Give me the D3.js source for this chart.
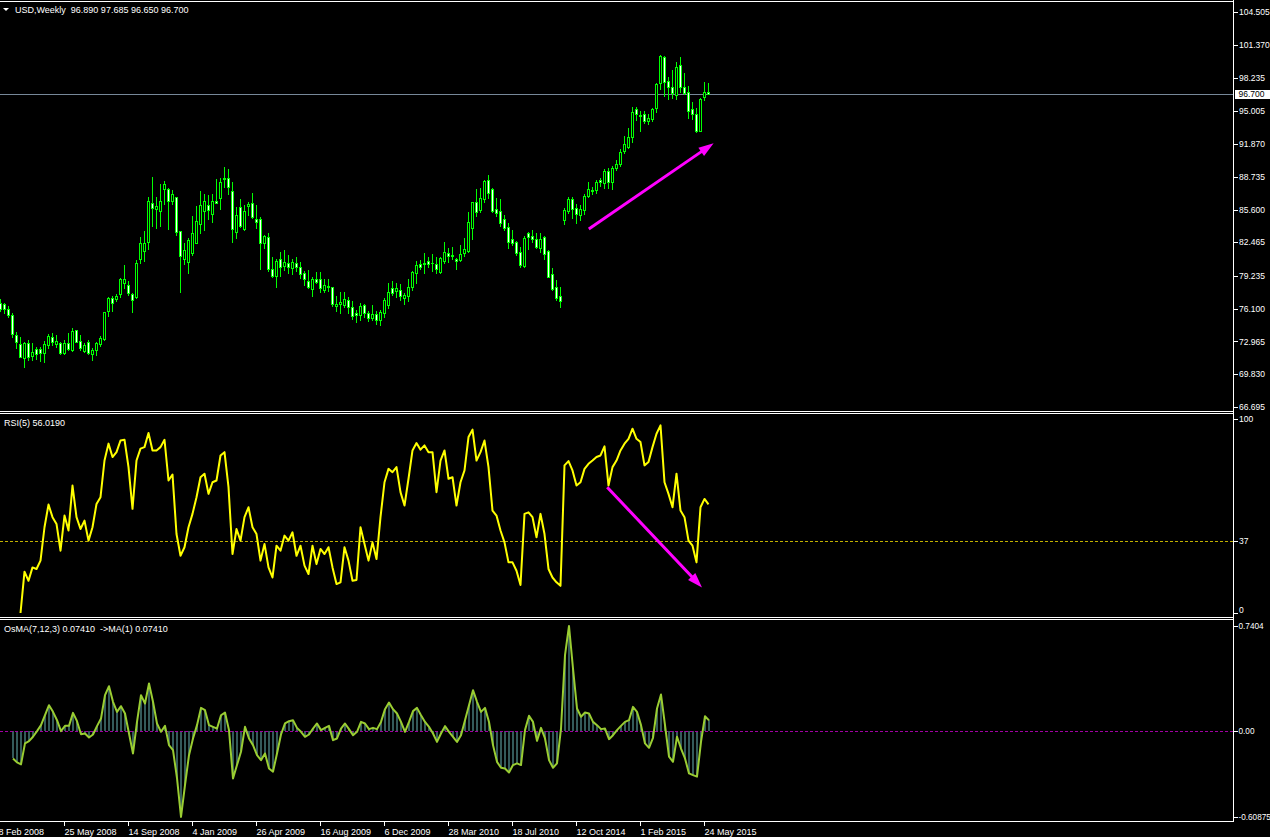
<!DOCTYPE html>
<html><head><meta charset="utf-8">
<script src="https://cdnjs.cloudflare.com/ajax/libs/d3/7.8.5/d3.min.js"></script>
<style>
body{margin:0;background:#000;overflow:hidden}
svg{display:block}
text{font-family:"Liberation Sans",Arial,sans-serif;font-size:9px;fill:#fff;white-space:pre}
</style></head>
<body><svg id="c" width="1270" height="837"></svg>
<script>
// ---------------- data ----------------
const opens=[76.65,76.56,76.05,75.53,73.58,72.72,71.36,72.79,71.58,72.25,72.25,71.86,72.60,73.37,72.75,72.79,71.89,72.79,72.15,74.04,73.01,72.08,72.95,71.77,72.15,72.75,73.17,75.91,77.10,77.00,77.48,78.60,78.37,77.51,77.20,80.89,81.60,82.46,86.25,85.65,85.46,87.56,87.56,86.41,86.77,83.54,80.86,80.55,81.46,82.42,84.18,85.49,86.03,85.14,86.41,86.73,88.52,88.59,87.40,83.42,85.87,83.73,85.96,86.25,84.69,84.66,82.36,83.00,79.87,79.26,80.83,80.19,80.51,80.03,80.51,80.07,79.49,78.76,77.99,78.95,78.95,77.89,78.18,78.15,76.40,76.56,76.49,76.91,76.27,75.72,75.50,76.43,75.72,75.19,75.57,75.02,75.66,76.46,78.06,77.83,77.89,77.10,77.35,78.15,79.49,80.35,80.35,80.67,80.51,80.35,79.65,80.70,81.41,81.25,80.86,80.77,81.46,81.63,83.80,86.35,85.55,86.58,88.42,87.53,85.62,85.49,84.66,83.95,82.78,82.46,81.56,80.22,83.32,83.09,82.75,81.89,83.00,81.63,79.40,78.15,77.35,84.60,85.46,86.58,85.72,85.07,85.55,86.92,87.37,87.47,88.42,88.17,89.32,88.20,89.54,89.93,91.23,91.61,92.57,95.19,94.65,94.71,94.10,94.24,95.29,97.68,100.17,97.93,97.30,96.56,99.43,97.30,96.88,95.19,94.71,93.14,96.40,96.89];
const highs=[77.03,76.68,76.37,75.72,73.90,73.37,72.95,73.11,72.79,72.47,72.47,73.01,73.65,73.75,73.58,72.95,73.11,73.75,74.23,74.07,73.58,72.82,73.11,72.31,72.95,73.49,75.82,77.20,77.32,77.48,79.01,80.29,78.78,77.63,80.77,82.94,83.58,86.83,88.71,86.77,88.04,88.33,87.69,87.47,86.83,83.57,82.42,82.84,84.98,85.94,87.37,87.05,86.99,87.08,88.52,88.59,89.64,89.48,88.20,85.87,86.58,86.05,86.35,87.15,86.05,84.91,83.15,83.32,81.03,80.86,81.50,81.72,81.25,80.86,81.08,80.60,79.71,79.81,79.17,79.59,79.59,78.95,78.95,78.21,77.32,77.70,77.73,77.20,76.85,75.98,76.68,76.56,75.91,76.46,75.88,75.98,77.10,78.54,78.76,78.54,78.44,77.58,78.92,79.71,80.70,80.77,81.41,81.08,81.34,81.08,81.08,82.52,81.89,82.04,80.93,82.20,82.84,85.39,86.35,87.53,87.69,88.42,88.90,87.69,86.67,86.60,85.07,84.28,83.64,82.59,82.04,83.09,83.47,83.64,83.32,83.32,83.06,81.72,79.97,78.85,78.15,85.71,86.83,86.77,86.10,86.03,87.08,88.20,87.78,88.42,88.59,89.45,89.54,89.79,90.34,91.36,92.64,93.37,95.44,95.44,95.03,95.03,94.71,95.29,97.74,100.39,100.29,98.31,98.95,99.75,100.23,98.64,97.42,95.86,95.29,96.24,97.78,97.685];
const lows=[75.88,75.72,75.28,73.42,72.37,71.45,70.55,71.20,71.20,71.29,71.10,71.00,72.37,72.63,72.47,71.77,71.77,72.15,72.06,72.92,72.15,71.99,71.77,71.20,71.67,72.54,73.13,75.44,75.91,76.84,77.20,78.12,77.39,75.82,77.17,80.51,80.67,81.82,84.02,83.83,84.01,86.13,83.77,86.16,83.15,77.73,80.38,79.49,81.27,82.36,83.38,83.64,84.69,84.37,86.20,85.65,87.72,87.05,82.52,82.84,83.96,83.64,85.07,84.76,83.80,79.90,81.89,79.71,79.17,78.21,79.26,79.81,79.49,79.42,79.74,79.01,78.37,78.12,77.35,78.54,77.73,77.73,77.83,76.37,75.91,75.69,76.30,75.66,75.12,74.86,75.02,75.34,74.93,75.02,74.64,74.54,75.34,76.14,77.42,77.25,76.94,76.53,76.87,77.89,78.60,79.90,79.55,80.07,79.71,79.55,79.49,80.45,80.55,80.83,79.90,80.67,81.18,81.56,82.78,85.01,85.39,86.35,86.67,85.39,85.01,84.05,83.64,81.94,82.20,81.25,80.07,80.12,81.82,82.52,81.89,81.56,80.83,79.11,77.89,76.94,76.24,84.21,85.24,84.81,84.34,84.60,85.14,86.83,87.08,87.15,87.85,87.69,87.69,87.53,89.38,89.76,91.04,91.46,92.09,94.17,93.14,93.85,93.76,94.07,94.90,97.10,96.49,96.15,96.30,96.18,96.82,96.63,94.33,94.23,93.04,93.11,96.08,96.65];
const closes=[76.08,76.05,75.47,73.65,72.95,71.51,72.79,71.51,71.99,71.77,71.89,72.70,73.49,72.92,73.01,71.89,72.85,72.28,73.97,72.95,72.31,72.63,71.83,72.15,72.79,73.33,75.76,77.10,76.68,77.32,78.95,78.92,77.58,76.94,80.44,82.36,82.36,86.44,85.72,85.91,86.41,88.01,86.38,87.08,83.47,81.18,81.72,82.68,83.38,84.50,86.03,86.41,85.55,86.41,86.25,88.20,88.64,87.72,83.70,85.07,84.05,85.49,86.10,84.85,84.43,82.36,83.06,79.90,79.26,80.67,80.07,80.60,80.12,80.60,80.12,79.40,78.92,78.21,78.92,78.69,78.06,78.37,78.27,76.56,76.56,76.75,77.00,76.27,75.36,75.47,76.37,75.66,75.19,75.57,75.02,75.76,76.94,77.67,77.58,78.06,77.32,77.41,78.21,79.59,80.29,80.12,80.51,80.35,80.45,79.90,80.93,81.56,81.15,81.19,80.70,81.34,81.79,84.43,86.29,85.39,86.67,88.33,87.21,85.46,85.24,84.34,83.86,82.52,82.42,81.41,80.29,82.84,83.00,82.78,81.98,82.75,81.31,79.17,77.99,77.10,76.87,85.55,86.58,85.65,85.14,85.62,86.92,87.53,87.47,88.20,88.20,89.29,88.20,89.54,89.93,91.08,91.84,92.57,94.90,94.71,94.58,94.10,94.33,95.19,97.61,100.29,97.83,97.30,96.72,99.27,97.30,96.78,95.06,94.71,93.11,96.15,96.82,96.70];

const rsiFirstBar=5;
const rsiValues=[0,21.3,16.6,23.5,22.7,27.0,44.2,55.9,49.4,45.9,32.1,50.2,42.5,65.7,49.4,43.3,47.6,37.3,44.2,56.2,59.7,78.6,87.3,80.4,82.9,88.9,89.3,75.2,53.7,78.6,84.7,85.5,92.8,83.8,83.8,85.5,89.3,68.3,71.4,40.7,29.5,33.9,44.2,51.1,59.7,70.0,71.8,61.4,67.4,68.3,81.2,82.9,64.9,30.4,43.3,37.3,49.4,54.5,44.2,40.7,27.0,35.6,23.5,18.3,34.7,32.1,39.9,37.3,41.6,29.5,34.7,24.4,20.1,34.7,25.2,33.0,30.4,33.9,23.5,14.9,15.8,33.9,27.0,16.6,17.0,44.2,35.6,27.0,36.4,27.8,49.4,67.4,74.3,72.6,75.2,62.3,55.4,69.2,83.8,87.6,84.2,86.4,82.9,82.9,62.3,78.6,83.8,69.2,70.0,55.4,67.4,73.5,90.7,94.5,78.6,82.9,88.9,75.2,52.8,50.2,42.5,36.4,26.1,26.1,21.8,14.4,51.1,51.9,49.4,39.0,51.1,40.7,22.7,18.3,15.8,14.0,76.1,78.3,73.5,65.7,67.4,74.3,76.9,78.6,80.4,81.2,85.9,65.7,75.2,78.6,83.8,87.3,89.8,95.0,89.8,88.1,76.1,77.8,85.5,92.4,96.7,67.4,61.4,54.5,71.8,52.8,49.4,37.3,34.7,26.1,54.5,58.8,56.019];
const rsiLevel=37;

const osmaFirstBar=3;
const osmaValues=[-0.195,-0.223,-0.237,-0.089,-0.073,-0.042,-0.002,0.040,0.110,0.181,0.134,0.075,-0.002,0.035,0.035,0.127,0.068,-0.024,-0.019,-0.047,-0.026,0.033,0.087,0.252,0.315,0.205,0.134,0.174,0.122,-0.019,-0.160,0.063,0.252,0.193,0.334,0.205,0.052,-0.007,0.035,-0.101,-0.136,-0.334,-0.60875,-0.383,-0.172,-0.054,0.040,0.162,0.146,0.040,0.028,0.016,0.110,0.129,0.005,-0.336,-0.242,-0.148,0.028,-0.054,-0.101,-0.172,-0.207,-0.160,-0.266,-0.289,-0.160,-0.026,0.052,0.068,0.075,0.021,-0.007,-0.042,-0.026,0.016,0.052,0.005,0.021,0.035,-0.066,-0.054,0.016,0.052,0.012,-0.031,-0.007,0.063,0.052,0.012,0.021,0.012,0.063,0.153,0.200,0.153,0.122,0.063,-0.007,0.063,0.139,0.162,0.110,0.063,0.028,-0.019,-0.078,-0.019,0.033,-0.007,-0.042,-0.078,-0.031,0.075,0.181,0.287,0.205,0.134,0.162,0.063,-0.101,-0.219,-0.261,-0.266,-0.294,-0.242,-0.230,-0.242,0.005,0.106,0.063,-0.071,0.021,-0.054,-0.207,-0.261,-0.230,0.016,0.534,0.7404,0.440,0.158,0.099,0.129,0.122,0.063,0.040,0.012,0.016,-0.059,-0.031,0.005,0.035,0.063,0.075,0.169,0.134,0.040,-0.089,-0.120,-0.049,0.158,0.256,0.040,-0.183,-0.219,-0.042,-0.125,-0.195,-0.301,-0.313,-0.324,-0.078,0.103,0.0741];

const priceTickLabels=["104.505","101.370","98.235","95.005","91.870","88.735","85.600","82.465","79.235","76.100","72.965","69.830","66.695"];
const rsiTickValues=[100,37,0];
const rsiTickLabels=["100","37","0"];
const osmaTickValues=[0.7404,0,-0.60875];
const osmaTickLabels=["0.7404","0.00","-0.60875"];
const timeTickBars=[-0.5,16,32,48,64,80,96,112,128,144,160,176];
const timeTickLabels=["8 Feb 2008","25 May 2008","14 Sep 2008","4 Jan 2009","26 Apr 2009","16 Aug 2009","6 Dec 2009","28 Mar 2010","18 Jul 2010","12 Oct 2014","1 Feb 2015","24 May 2015"];

const lastPrice=96.70;
const mainTitle="USD,Weekly  96.890 97.685 96.650 96.700";
const rsiTitle="RSI(5) 56.0190";
const osmaTitle="OsMA(7,12,3) 0.07410  ->MA(1) 0.07410";
// annotation arrows: [barIndex, value]
const priceArrow=[[147.2,83.73],[178.4,91.94]];
const rsiArrow=[[151.8,64.8],[175.5,13.2]];

// ---------------- layout ----------------
const W=1270, AX=1233;
const P={main:[1,411],rsi:[413,617],osma:[619,821]};
const svg=d3.select('#c');
svg.append('rect').attr('width',W).attr('height',837).attr('fill','#000');
const defs=svg.append('defs');
Object.entries(P).forEach(([k,[t,b]])=>{
  defs.append('clipPath').attr('id','clip-'+k).append('rect').attr('x',0).attr('y',t+1).attr('width',AX).attr('height',b-t-1);
});

const n=opens.length;
const x=d3.scaleLinear().domain([0,n-1]).range([0,(n-1)*4]);
const yMain=d3.scaleLinear().domain([66.695,104.505]).range([407,12]);
const yRsi=d3.scaleLinear().domain([0,100]).range([613,419]);
const yOsma=d3.scaleLinear().domain([-0.60875,0.7404]).range([817,626]);
const idx=d3.range(n);

// ---------------- main candles ----------------
const gMain=svg.append('g').attr('clip-path','url(#clip-main)').attr('shape-rendering','crispEdges');
gMain.append('line').attr('x1',0).attr('x2',AX).attr('y1',Math.round(yMain(lastPrice))+0.5).attr('y2',Math.round(yMain(lastPrice))+0.5).attr('stroke','#778899').attr('stroke-width',1);
const R=v=>Math.round(v);
gMain.selectAll('rect.wick').data(idx).join('rect').attr('class','wick')
  .attr('x',i=>x(i)).attr('width',1)
  .attr('y',i=>R(yMain(highs[i]))).attr('height',i=>Math.max(1,R(yMain(lows[i]))-R(yMain(highs[i]))+1))
  .attr('fill','#00ff00');
const bTop=i=>R(yMain(Math.max(opens[i],closes[i]))), bBot=i=>R(yMain(Math.min(opens[i],closes[i])));
gMain.selectAll('rect.body').data(idx).join('rect').attr('class','body')
  .attr('x',i=>x(i)-1).attr('width',3)
  .attr('y',bTop).attr('height',i=>Math.max(1,bBot(i)-bTop(i)+1))
  .attr('fill','#00ff00');
gMain.selectAll('rect.inner').data(idx.filter(i=>bBot(i)-bTop(i)>=2)).join('rect').attr('class','inner')
  .attr('x',i=>x(i)).attr('width',1)
  .attr('y',i=>bTop(i)+1).attr('height',i=>bBot(i)-bTop(i)-1)
  .attr('fill',i=>closes[i]>=opens[i]?'#000':'#fff');

// ---------------- RSI ----------------
const gRsi=svg.append('g').attr('clip-path','url(#clip-rsi)');
gRsi.append('line').attr('x1',0).attr('x2',AX).attr('y1',R(yRsi(rsiLevel))+0.5).attr('y2',R(yRsi(rsiLevel))+0.5)
  .attr('stroke','#c0b000').attr('stroke-dasharray','3,2').attr('shape-rendering','crispEdges');
gRsi.append('path').datum(rsiValues.map((v,k)=>[rsiFirstBar+k,v]))
  .attr('d',d3.line().x(d=>x(d[0])+0.5).y(d=>yRsi(d[1])))
  .attr('fill','none').attr('stroke','#ffff00').attr('stroke-width',2).attr('stroke-linejoin','round');

// ---------------- OsMA ----------------
const gOs=svg.append('g').attr('clip-path','url(#clip-osma)');
const osData=osmaValues.map((v,k)=>[osmaFirstBar+k,v]);
gOs.selectAll('rect.h').data(osData).join('rect').attr('class','h')
  .attr('x',d=>x(d[0])).attr('width',2)
  .attr('y',d=>Math.min(yOsma(d[1]),yOsma(0))).attr('height',d=>Math.abs(yOsma(d[1])-yOsma(0)))
  .attr('fill','#345a5a').attr('shape-rendering','crispEdges');
gOs.append('line').attr('x1',0).attr('x2',AX).attr('y1',R(yOsma(0))+0.5).attr('y2',R(yOsma(0))+0.5)
  .attr('stroke','#a000a0').attr('stroke-dasharray','3,2').attr('shape-rendering','crispEdges');
gOs.append('path').datum(osData)
  .attr('d',d3.line().x(d=>x(d[0])+1).y(d=>yOsma(d[1])))
  .attr('fill','none').attr('stroke','#9acd32').attr('stroke-width',2).attr('stroke-linejoin','round');

// ---------------- arrows ----------------
function arrow(g,pts,yS){
  const [a,b]=pts.map(p=>[x(p[0]),yS(p[1])]);
  const dx=b[0]-a[0], dy=b[1]-a[1], L=Math.hypot(dx,dy), ux=dx/L, uy=dy/L;
  const hl=15, hw=5;
  const base=[b[0]-ux*hl,b[1]-uy*hl];
  g.append('line').attr('x1',a[0]).attr('y1',a[1]).attr('x2',base[0]+ux*2).attr('y2',base[1]+uy*2)
    .attr('stroke','#ff00ff').attr('stroke-width',3);
  g.append('path').attr('d',`M${b[0]},${b[1]}L${base[0]-uy*hw},${base[1]+ux*hw}L${base[0]+uy*hw},${base[1]-ux*hw}Z`).attr('fill','#ff00ff');
}
arrow(svg.append('g').attr('clip-path','url(#clip-main)'),priceArrow,yMain);
arrow(svg.append('g').attr('clip-path','url(#clip-rsi)'),rsiArrow,yRsi);

// ---------------- frames ----------------
const fr=svg.append('g').attr('stroke','#fff').attr('shape-rendering','crispEdges');
[P.main[0],P.main[1],P.rsi[0],P.rsi[1],P.osma[0],P.osma[1]].forEach(y=>{
  fr.append('line').attr('x1',0).attr('x2',AX).attr('y1',y+0.5).attr('y2',y+0.5);
});
fr.append('line').attr('x1',AX+0.5).attr('x2',AX+0.5).attr('y1',0).attr('y2',P.osma[1]+1);

// ---------------- axes ----------------
function styleAxis(g,fs){
  g.select('.domain').remove();
  g.selectAll('line').attr('stroke','#fff').attr('shape-rendering','crispEdges');
  g.selectAll('text').attr('fill','#fff').style('font-family','"Liberation Sans",Arial,sans-serif').style('font-size',(fs||9)+'px');
}
const priceVals=priceTickLabels.map(Number);
svg.append('g').attr('transform',`translate(${AX+0.5},0)`)
  .call(d3.axisRight(yMain).tickValues(priceVals).tickFormat((d,k)=>priceTickLabels[k]).tickSize(4).tickPadding(1.5))
  .call(styleAxis,8.5);
svg.append('g').attr('transform',`translate(${AX+0.5},0)`)
  .call(d3.axisRight(yRsi).tickValues(rsiTickValues).tickFormat((d,k)=>rsiTickLabels[k]).tickSize(4).tickPadding(1.5))
  .call(styleAxis,8.5)
  .call(g=>g.selectAll('.tick').filter(d=>d===0).select('text').attr('dy','-0.05em'));
svg.append('g').attr('transform',`translate(${AX+0.5},0)`)
  .call(d3.axisRight(yOsma).tickValues(osmaTickValues).tickFormat((d,k)=>osmaTickLabels[k]).tickSize(4).tickPadding(1))
  .call(styleAxis,8.2);
svg.append('g').attr('transform',`translate(0,${P.osma[1]+0.5})`)
  .call(d3.axisBottom(x).tickValues(timeTickBars).tickFormat((d,k)=>timeTickLabels[k]).tickSize(4).tickPadding(3))
  .call(styleAxis,9)
  .call(g=>g.selectAll('text').attr('text-anchor','start').attr('x',0));

// current price label
const yLP=R(yMain(lastPrice));
svg.append('rect').attr('x',AX+2).attr('y',yLP-4).attr('width',W-AX-2).attr('height',9).attr('fill','#fff').attr('shape-rendering','crispEdges');
svg.append('text').attr('x',AX+5.5).attr('y',yLP+0.5).attr('dy','0.32em').style('fill','#000').style('font-size','8.5px').text(lastPrice.toFixed(3));

// ---------------- titles ----------------
svg.append('path').attr('d','M3,8L9,8L6,11Z').attr('fill','#fff');
svg.append('text').attr('x',15).attr('y',13).text(mainTitle);
svg.append('text').attr('x',4).attr('y',426).text(rsiTitle);
svg.append('text').attr('x',4).attr('y',632).text(osmaTitle);
</script></body></html>
